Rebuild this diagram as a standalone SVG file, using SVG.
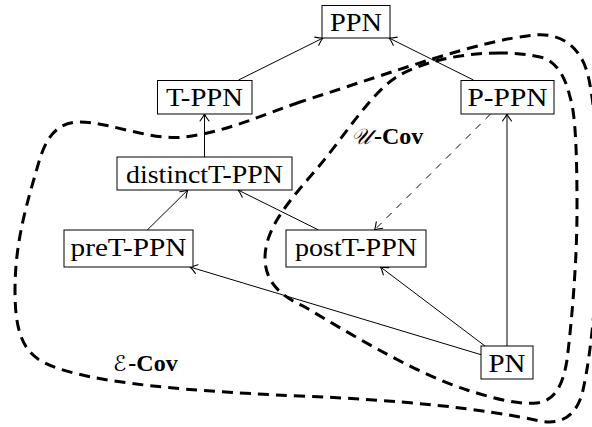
<svg xmlns="http://www.w3.org/2000/svg" width="592" height="427" viewBox="0 0 592 427">
<style>
.box{fill:#fff;stroke:#000;stroke-width:1}
.lbl{font-family:'Liberation Serif',serif;font-weight:400;font-size:25px;fill:#000}
.edge{fill:none;stroke:#000;stroke-width:1;marker-end:url(#arr)}
.dash{stroke-dasharray:7 7}
.region{fill:none;stroke:#000;stroke-width:3;stroke-dasharray:11 7}
.script{font-family:'DejaVu Serif','DejaVu Sans','Noto Sans',serif;font-style:italic;font-weight:400;font-size:22px;fill:#000}
.bold{font-family:'Liberation Serif',serif;font-weight:bold;font-size:24px;fill:#000}
</style>
<defs>
<marker id="arr" markerUnits="userSpaceOnUse" markerWidth="14" markerHeight="14" refX="0" refY="0" viewBox="-9 -7 11 14" orient="auto">
<path d="M -7,-4.5 Q -2.5,-1 0,0 Q -2.5,1 -7,4.5" fill="none" stroke="#000" stroke-width="1.1" stroke-linecap="round"/>
</marker>
</defs>
<rect width="592" height="427" fill="#fff"/>
<g id="regions">
<path id="e-cov-region" class="region" d="M 300,102 C 260,116 225,132 185,137 C 150,141 110,122 80,122 C 55,122 45,140 38,165 C 28,200 15,240 15,290 C 15,330 22,352 45,363 C 80,380 160,390 300,396 C 400,400 480,408 540,421 C 565,426 578,412 583,390 C 592,350 598,280 598,220 C 598,160 596,110 588,75 C 580,45 560,33 535,35 C 480,40 400,70 300,102 Z"/>
<path id="u-cov-region" class="region" d="M 500,53 C 460,53 420,62 395,78 C 370,95 345,135 320,165 C 295,195 265,225 265,258 C 265,285 285,298 305,307 C 360,340 420,375 467,390 C 490,397 515,405 537,403 C 555,401 563,385 567,360 C 572,320 577,260 577,210 C 577,160 576,115 570,97 C 565,75 555,60 540,57 C 525,54 515,53 500,53 Z"/>
<text id="u-cov-label" x="351" y="144"><tspan class="script">𝒰</tspan><tspan class="bold" dx="3">-Cov</tspan></text>
<text id="e-cov-label" x="113" y="371"><tspan class="script">ℰ</tspan><tspan class="bold" dx="2">-Cov</tspan></text>
</g>
<g id="connectors">
<line class="edge" x1="238.6" y1="80" x2="323" y2="38"/>
<line class="edge" x1="473.4" y1="80" x2="389" y2="38"/>
<line class="edge" x1="204.5" y1="157" x2="204.5" y2="114"/>
<line class="edge" x1="147.3" y1="230" x2="187.8" y2="190"/>
<line class="edge" x1="318.6" y1="230" x2="238" y2="190"/>
<line class="edge dash" x1="490.5" y1="114" x2="374.5" y2="230"/>
<line class="edge" x1="507" y1="346" x2="507" y2="114"/>
<line class="edge" x1="485" y1="346" x2="380.5" y2="267"/>
<line class="edge" x1="481" y1="354.7" x2="190" y2="267"/>
</g>
<g id="PPN"><rect class="box" x="322" y="5.5" width="68" height="32.5"/><text class="lbl" x="356" y="31" text-anchor="middle" textLength="52" lengthAdjust="spacingAndGlyphs">PPN</text></g>
<g id="T-PPN"><rect class="box" x="157.5" y="80.5" width="94.5" height="33.5"/><text class="lbl" x="204.5" y="106" text-anchor="middle" textLength="77" lengthAdjust="spacingAndGlyphs">T-PPN</text></g>
<g id="P-PPN"><rect class="box" x="461" y="80.5" width="93" height="33.5"/><text class="lbl" x="507.5" y="106" text-anchor="middle" textLength="80" lengthAdjust="spacingAndGlyphs">P-PPN</text></g>
<g id="distinctT-PPN"><rect class="box" x="117" y="157" width="175" height="33"/><text class="lbl" x="204.5" y="183" text-anchor="middle" textLength="157" lengthAdjust="spacingAndGlyphs">distinctT-PPN</text></g>
<g id="preT-PPN"><rect class="box" x="64" y="230" width="129" height="37"/><text class="lbl" x="128.5" y="256" text-anchor="middle" textLength="116" lengthAdjust="spacingAndGlyphs">preT-PPN</text></g>
<g id="postT-PPN"><rect class="box" x="286" y="230" width="140" height="37"/><text class="lbl" x="356" y="256" text-anchor="middle" textLength="122" lengthAdjust="spacingAndGlyphs">postT-PPN</text></g>
<g id="PN"><rect class="box" x="481" y="346" width="52" height="33"/><text class="lbl" x="507" y="372" text-anchor="middle" textLength="37" lengthAdjust="spacingAndGlyphs">PN</text></g>
</svg>
